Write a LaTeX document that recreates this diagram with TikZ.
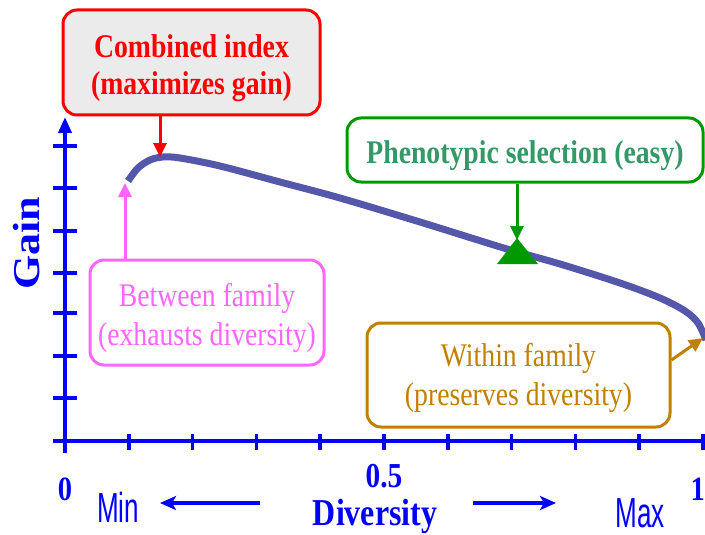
\documentclass[tikz,border=0pt]{standalone}
\usepackage{fontspec}
\usepackage{graphicx}
\setmainfont{Liberation Serif}
\newfontfamily\sansf{Liberation Sans}
\usetikzlibrary{arrows.meta}
\definecolor{axblue}{HTML}{0000FF}
\definecolor{curveblue}{HTML}{5558AA}
\definecolor{boxred}{HTML}{FF0000}
\definecolor{boxgray}{HTML}{EBEBEB}
\definecolor{boxgreen}{HTML}{009900}
\definecolor{txtgreen}{HTML}{339966}
\definecolor{boxpink}{HTML}{FF66FF}
\definecolor{boxgold}{HTML}{C08000}
\newcommand\sqz[1]{\scalebox{0.84}[1]{#1}}
\newcommand\sqs[1]{\scalebox{0.62}[1]{#1}}
\newcommand\topstrut[1]{\rule{0pt}{#1}}
\begin{document}
\begin{tikzpicture}[x=1pt,y=-1pt,
  callout/.style={draw, line width=3pt, rounded corners=14pt, inner sep=0pt, align=center,
    font=\fontsize{33}{39}\selectfont},
  axisline/.style={axblue, line width=4.5pt},
  ticky/.style={axblue, line width=4pt},
  tickx/.style={axblue, line width=3.5pt},
  axlabel/.style={text=axblue, inner sep=0pt, anchor=base},
  pointer/.style={line width=3pt, -{Triangle[length=14pt,width=13pt]}},
  dirarrow/.style={axblue, line width=4pt, -{Stealth[length=16pt,width=14pt,inset=4pt]}},
  curvestyle/.style={curveblue, line width=7pt}
]
\useasboundingbox (0,0) rectangle (705,535);

% axes
\draw[axisline] (53,441) -- (712,441);
\draw[axisline, -{Triangle[length=16pt,width=13pt]}] (65,453) -- (65,117);
\foreach \yy in {146,188,231,273,313,356,398}
  \draw[ticky] (53,\yy) -- (77,\yy);
\foreach \ii in {1,...,10}
  \draw[tickx] ({65+63.8*\ii},434) -- ({65+63.8*\ii},450);

% curve
\draw[curvestyle] plot[smooth, tension=0.55] coordinates {
  (128,181) (138,168) (150,160) (163,157) (180,158) (220,166) (280,182)
  (340,198) (420,222) (507,249) (560,264) (620,283) (660,298) (685,311)
  (698,323) (706,340)};

% labels
\node[axlabel, rotate=90] (gain) at (39,243.5)
  {\fontsize{44}{48}\selectfont\bfseries\scalebox{1}[0.86]{Gain}};
\node[axlabel] (zero) at (65,500) {\fontsize{34}{36}\selectfont\bfseries\sqz{0}};
\node[axlabel] (half) at (384,487) {\fontsize{35}{36}\selectfont\bfseries\sqz{0.5}};
\node[axlabel, anchor=base east] (one) at (705,500) {\fontsize{34}{36}\selectfont\bfseries\sqz{1}};
\node[axlabel] (div) at (375,525) {\fontsize{38}{40}\selectfont\bfseries\sqz{Diversity}};
\node[axlabel] (minl) at (118,522) {\fontsize{42}{44}\selectfont\sansf\sqs{Min}};
\node[axlabel] (maxl) at (640,527) {\fontsize{42}{44}\selectfont\sansf\sqs{Max}};
\coordinate (la) at (260,503);
\coordinate (lb) at (160,503);
\coordinate (ra) at (473,503);
\coordinate (rb) at (556,503);
\draw[dirarrow] (la) -- (lb);
\draw[dirarrow] (ra) -- (rb);

% callouts
\node[callout, draw=boxred, fill=boxgray, text=boxred, minimum width=257pt, minimum height=105pt,
  font=\fontsize{33}{37}\selectfont\bfseries] (comb) at (191.5,62.5)
  {\topstrut{34pt}\sqz{Combined index}\\\sqz{(maximizes gain)}};
\node[callout, draw=boxgreen, fill=white, text=txtgreen, minimum width=356pt, minimum height=64pt,
  font=\fontsize{33}{36}\selectfont\bfseries] (pheno) at (525,150)
  {\topstrut{34pt}\sqz{Phenotypic selection (easy)}};
\node[callout, draw=boxpink, fill=white, text=boxpink, minimum width=234pt, minimum height=105pt] (betw) at (207,312.5)
  {\topstrut{34pt}\sqz{Between family}\\\sqz{(exhausts diversity)}};
\node[callout, draw=boxgold, fill=white, text=boxgold, minimum width=303pt, minimum height=104pt] (within) at (518.5,375)
  {\topstrut{30pt}\sqz{Within family}\\\sqz{(preserves diversity)}};

% pointers
\coordinate (peak) at (160,157);
\coordinate (start) at (125,183);
\coordinate (tri) at (517,240);
\coordinate (endpt) at (703,338);
\draw[pointer, boxred] (comb.south -| peak) -- (peak);
\draw[pointer, boxpink] (betw.north -| start) -- (start);
\draw[pointer, boxgreen] (pheno.south -| tri) -- (tri);
\fill[boxgreen] (517,238) -- (538,264) -- (497,264) -- cycle;
\draw[pointer, boxgold] (within.east |- 0,360) -- (endpt);
\end{tikzpicture}
\end{document}
